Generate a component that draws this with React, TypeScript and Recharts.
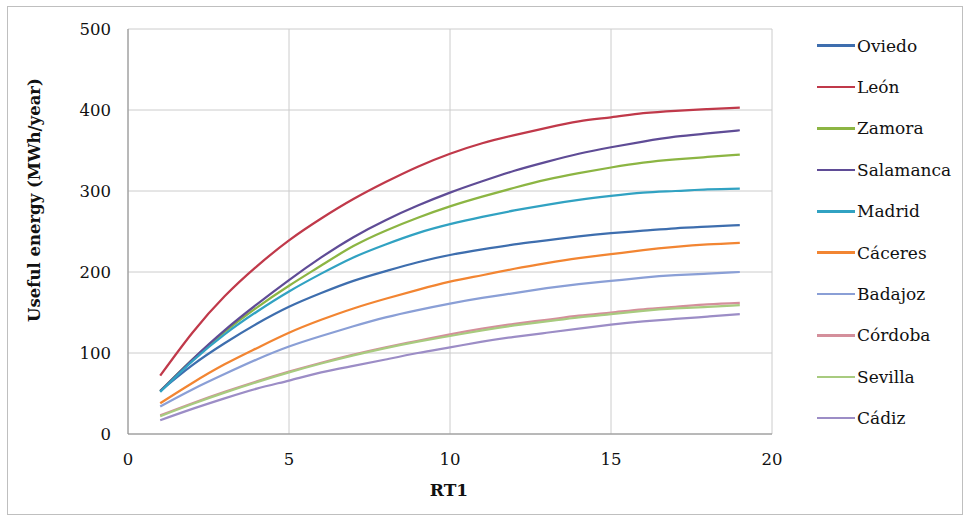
import React from "react";
import { LineChart, Line, XAxis, YAxis, CartesianGrid } from "recharts";

const rt1 = [1, 2, 3, 4, 5, 6, 7, 8, 9, 10, 11, 12, 13, 14, 15, 16, 17, 18, 19];

const oviedo = [53, 85, 112, 136, 157, 174, 189, 201, 212, 221, 228, 234, 239, 244, 248, 251, 254, 256, 258];
const leon = [72, 125, 170, 207, 239, 266, 290, 311, 330, 346, 359, 369, 378, 386, 391, 396, 399, 401, 403];
const zamora = [53, 92, 126, 156, 183, 208, 232, 251, 267, 281, 293, 304, 314, 322, 329, 335, 339, 342, 345];
const salamanca = [53, 92, 128, 160, 190, 218, 243, 264, 282, 298, 312, 325, 336, 346, 354, 361, 367, 371, 375];
const madrid = [52, 90, 123, 151, 176, 198, 218, 234, 248, 259, 268, 276, 283, 289, 294, 298, 300, 302, 303];
const caceres = [38, 63, 86, 106, 125, 141, 155, 167, 178, 188, 196, 204, 211, 217, 222, 227, 231, 234, 236];
const badajoz = [34, 55, 74, 92, 108, 121, 133, 144, 153, 161, 168, 174, 180, 185, 189, 193, 196, 198, 200];
const cordoba = [23, 38, 52, 65, 77, 88, 98, 107, 115, 123, 130, 136, 141, 146, 150, 154, 157, 160, 162];
const sevilla = [22, 37, 51, 64, 76, 87, 97, 106, 114, 121, 128, 134, 139, 144, 148, 152, 155, 157, 159];
const cadiz = [17, 31, 44, 56, 66, 76, 84, 92, 100, 107, 114, 120, 125, 130, 135, 139, 142, 145, 148];

const seriesNames = ["Oviedo", "León", "Zamora", "Salamanca", "Madrid", "Cáceres", "Badajoz", "Córdoba", "Sevilla", "Cádiz"];
const seriesValues = [oviedo, leon, zamora, salamanca, madrid, caceres, badajoz, cordoba, sevilla, cadiz];
const seriesColors = ["#3E6EAE", "#C0394A", "#8CB543", "#5F4C96", "#31A2C2", "#F28532", "#8A9FD6", "#D48F9B", "#A8CB7F", "#9C8DC6"];

const xTicks = [0, 5, 10, 15, 20];
const yTicks = [0, 100, 200, 300, 400, 500];

const data = rt1.map((x, i) => {
  const row: Record<string, number> = { x };
  seriesNames.forEach((n, s) => {
    row[n] = seriesValues[s][i];
  });
  return row;
});

const FONT = "'DejaVu Serif', serif";

const XTick = (props: any) => (
  <text x={props.x} y={props.y + 25} dy="0.35em" textAnchor="middle" style={{ fontFamily: FONT }} fontSize={16.5} fill="#111">
    {props.payload.value}
  </text>
);

const YTick = (props: any) => (
  <text x={props.x - 17} y={props.y} dy="0.35em" textAnchor="end" style={{ fontFamily: FONT }} fontSize={16.5} fill="#111">
    {props.payload.value}
  </text>
);

export default function App() {
  return (
    <div
      style={{
        position: "absolute",
        left: 7,
        top: 6,
        width: 956,
        height: 509,
        border: "1px solid #BFBFBF",
        boxSizing: "border-box",
        background: "#fff",
        fontFamily: FONT,
      }}
    >
      <LineChart width={954} height={507} data={data} margin={{ top: 22, right: 190, bottom: 10, left: 0 }} style={{ fontFamily: FONT }}>
        <CartesianGrid stroke="#CCCCCC" strokeWidth={1} />
        <XAxis
          dataKey="x"
          type="number"
          domain={[0, 20]}
          ticks={xTicks}
          tickLine={false}
          tickSize={0}
          tickMargin={0}
          height={70}
          axisLine={{ stroke: "#8C8C8C", strokeWidth: 1 }}
          tick={XTick}
          label={{
            content: () => (
              <text x={441} y={483} dy="0.35em" textAnchor="middle" style={{ fontFamily: FONT }} fontSize={17} fontWeight="bold" fill="#111">
                RT1
              </text>
            ),
          }}
        />
        <YAxis
          type="number"
          domain={[0, 500]}
          ticks={yTicks}
          tickLine={false}
          tickSize={0}
          tickMargin={0}
          width={120}
          axisLine={{ stroke: "#8C8C8C", strokeWidth: 1 }}
          tick={YTick}
          label={{
            content: () => (
              <text
                x={26}
                y={193}
                dy="0.35em"
                textAnchor="middle"
                transform="rotate(-90 26 193)"
                style={{ fontFamily: FONT }}
                fontSize={16.5}
                fontWeight="bold"
                fill="#111"
              >
                Useful energy (MWh/year)
              </text>
            ),
          }}
        />
        {seriesNames.map((n, s) => (
          <Line
            key={n}
            type="natural"
            dataKey={n}
            stroke={seriesColors[s]}
            strokeWidth={2.25}
            dot={false}
            activeDot={false}
            isAnimationActive={false}
          />
        ))}
      </LineChart>
      <div style={{ position: "absolute", left: 809, top: 18, width: 145 }}>
        {seriesNames.map((n, s) => (
          <div key={n} style={{ height: 41.4, display: "flex", alignItems: "center" }}>
            <span style={{ display: "inline-block", width: 38, height: 2.5, background: seriesColors[s] }} />
            <span style={{ marginLeft: 2, fontFamily: FONT, fontSize: 17, color: "#111", lineHeight: "20px" }}>{n}</span>
          </div>
        ))}
      </div>
    </div>
  );
}
